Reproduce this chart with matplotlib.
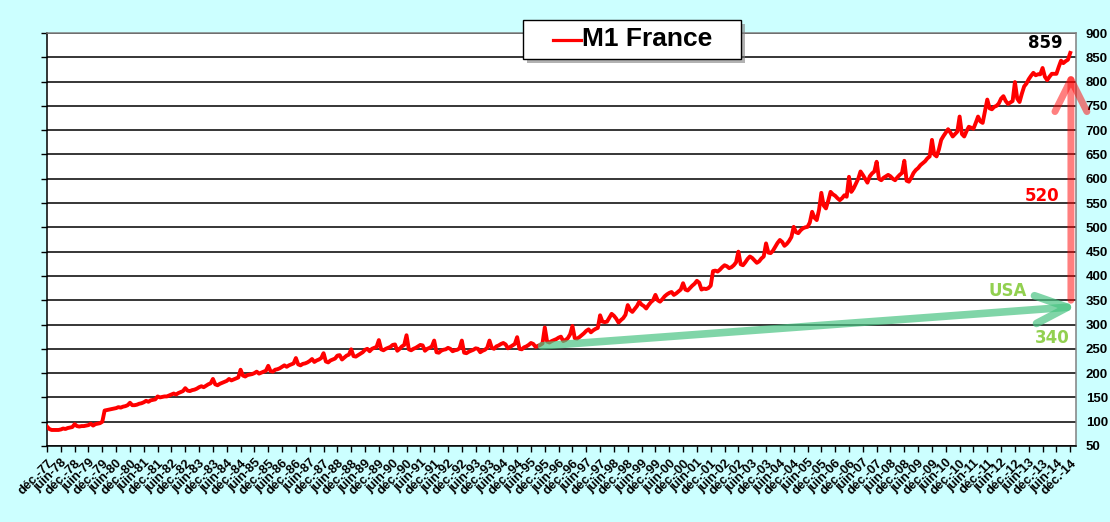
import matplotlib
matplotlib.use('Agg')
import matplotlib.pyplot as plt
from matplotlib.patches import Rectangle
from matplotlib.lines import Line2D

# M1 France, monthly, Dec-77 .. Dec-14
m1_dec77 = [90]
m1_78_82 = [85, 83, 83, 83, 83, 84, 86, 85, 87, 88, 89, 95,
            91, 90, 91, 91, 92, 93, 96, 92, 95, 96, 97, 100,
            123, 124, 125, 126, 127, 128, 130, 129, 131, 132, 134, 139,
            134, 134, 135, 137, 138, 140, 143, 141, 144, 145, 146, 152,
            150, 151, 152, 152, 154, 156, 158, 156, 159, 161, 163, 169]
m1_83_87 = [164, 163, 165, 166, 168, 171, 173, 171, 174, 177, 179, 188,
            177, 175, 178, 180, 182, 184, 188, 185, 187, 189, 191, 207,
            195, 193, 196, 197, 198, 200, 203, 199, 201, 203, 205, 215,
            204, 203, 207, 208, 210, 213, 216, 213, 216, 218, 220, 231,
            218, 216, 219, 220, 222, 225, 229, 223, 226, 228, 231, 241]
m1_88_92 = [224, 222, 226, 228, 230, 236, 237, 228, 232, 236, 238, 249,
            235, 234, 237, 240, 243, 248, 250, 245, 250, 252, 254, 268,
            249, 247, 250, 252, 254, 258, 259, 246, 250, 255, 258, 278,
            249, 247, 250, 252, 255, 258, 257, 246, 250, 252, 255, 267,
            243, 242, 246, 248, 249, 252, 250, 245, 247, 248, 251, 267]
m1_93_97 = [242, 241, 244, 246, 248, 251, 250, 243, 246, 248, 252, 267,
            252, 250, 255, 257, 260, 262, 259, 251, 254, 257, 260, 274,
            250, 249, 253, 255, 258, 262, 260, 254, 256, 258, 261, 294,
            265, 263, 266, 268, 270, 273, 275, 266, 268, 272, 280, 297,
            272, 271, 274, 278, 282, 287, 290, 284, 288, 291, 293, 319]
m1_98_02 = [306, 305, 306, 314, 322, 318, 312, 304, 309, 313, 320, 340,
            330, 326, 332, 338, 347, 341, 338, 333, 340, 346, 350, 361,
            350, 347, 352, 358, 362, 365, 367, 361, 364, 368, 372, 385,
            372, 370, 375, 380, 384, 390, 386, 372, 374, 373, 375, 380,
            410, 411, 409, 413, 418, 422, 420, 416, 418, 422, 428, 450]
m1_03_07 = [424, 422, 428, 435, 440, 437, 432, 427, 430, 436, 440, 467,
            448, 447, 452, 460, 468, 474, 470, 462, 466, 472, 480, 501,
            490, 488, 494, 498, 500, 501, 510, 532, 520, 515, 536, 571,
            545, 539, 555, 573, 568, 565, 560, 556, 560, 566, 563, 604,
            573, 580, 590, 600, 615, 608, 600, 592, 605, 611, 615, 635]
m1_08_11 = [600, 597, 602, 605, 608, 605, 600, 597, 603, 608, 612, 637,
            596, 594, 602, 612, 618, 622, 628, 632, 636, 642, 646, 680,
            650, 646, 660, 680, 688, 695, 702, 695, 687, 692, 697, 728,
            692, 687, 698, 707, 705, 703, 715, 728, 718, 715, 739, 763]
m1_12_14 = [745, 743, 748, 750, 755, 765, 770, 760, 754, 757, 760, 799,
            765, 758, 775, 790, 796, 805, 812, 818, 813, 815, 815, 828,
            810, 803, 810, 816, 816, 816, 830, 843, 838, 842, 845, 859]

m1 = m1_dec77 + m1_78_82 + m1_83_87 + m1_88_92 + m1_93_97 + m1_98_02 + m1_03_07 + m1_08_11 + m1_12_14
months = list(range(len(m1)))

tick_pos = list(range(0, len(m1), 6))
tick_labels = [('déc.' if i % 12 == 0 else 'juin') + '-%02d' % ((1977 + (i + 6) // 12) % 100)
               for i in tick_pos]
y_ticks = list(range(50, 901, 50))

plt.rcParams['font.family'] = 'Liberation Sans'

bg = '#CCFFFF'
green = '#92D050'
W, H = 1110, 522

fig = plt.figure(figsize=(W / 100, H / 100), dpi=100, facecolor=bg)
ax = fig.add_axes([47 / W, 1 - 446 / H, 1029 / W, 413 / H])
ax.set_facecolor('white')

ax.plot(months, m1, color='#FF0000', lw=2.8, solid_joinstyle='round', zorder=3)

ax.set_xlim(0, 446.5)
ax.set_ylim(50, 900)
ax.set_yticks(y_ticks, labels=[str(v) for v in y_ticks], fontsize=9.5, fontweight='bold')
ax.set_xticks(tick_pos, labels=tick_labels, rotation=45, ha='right', rotation_mode='anchor',
              fontsize=9.2, fontweight='bold')
ax.tick_params(axis='y', left=True, right=False, labelleft=False, labelright=True,
               length=4, width=1, direction='out', pad=3)
ax.tick_params(axis='x', length=4, width=1, direction='out', pad=4)
ax.set_axisbelow(True)
ax.yaxis.grid(True, color='black', lw=1.1)
for s in ['left', 'bottom']:
    ax.spines[s].set_color('black')
    ax.spines[s].set_linewidth(1.1)
for s in ['top', 'right']:
    ax.spines[s].set_color('#808080')
    ax.spines[s].set_linewidth(1.1)

# arrows
ax.annotate('', xy=(444.3, 820), xytext=(444.3, 350), annotation_clip=False,
            arrowprops=dict(arrowstyle='->,head_length=2.3,head_width=1.15', lw=5,
                            color='#FF0000', alpha=0.5, shrinkA=0, shrinkB=0,
                            mutation_scale=10), zorder=4)
ax.annotate('', xy=(446.9, 337), xytext=(214.6, 256), annotation_clip=False,
            arrowprops=dict(arrowstyle='->,head_length=2.3,head_width=1.0', lw=5.5,
                            color='#4AC483', alpha=0.7, shrinkA=0, shrinkB=0,
                            mutation_scale=10), zorder=4)

ax.text(433.4, 880, '859', color='black', fontsize=12, fontweight='bold',
        family='DejaVu Sans', ha='center', va='center')
ax.text(431.9, 564, '520', color='#FF0000', fontsize=12, fontweight='bold',
        family='DejaVu Sans', ha='center', va='center')
ax.text(416.7, 369, 'USA', color=green, fontsize=12, fontweight='bold',
        family='DejaVu Sans', ha='center', va='center')
ax.text(436.2, 272, '340', color=green, fontsize=12, fontweight='bold',
        family='DejaVu Sans', ha='center', va='center', clip_on=False)

# legend box
fig.add_artist(Rectangle(((523 + 4) / W, 1 - (59 + 4) / H), 218 / W, 39 / H,
                         transform=fig.transFigure, facecolor='#808080', alpha=0.6,
                         edgecolor='none', zorder=5))
fig.add_artist(Rectangle((523 / W, 1 - 59 / H), 218 / W, 39 / H,
                         transform=fig.transFigure, facecolor='white',
                         edgecolor='black', lw=1, zorder=6))
fig.add_artist(Line2D([553 / W, 581 / W], [1 - 40 / H, 1 - 40 / H],
                      transform=fig.transFigure, color='#FF0000', lw=2.3, zorder=7))
fig.text(582 / W, 1 - 39.5 / H, 'M1 France', fontsize=19, fontweight='bold',
         ha='left', va='center', zorder=7)

fig.savefig('out.png', dpi=100, facecolor=bg)
